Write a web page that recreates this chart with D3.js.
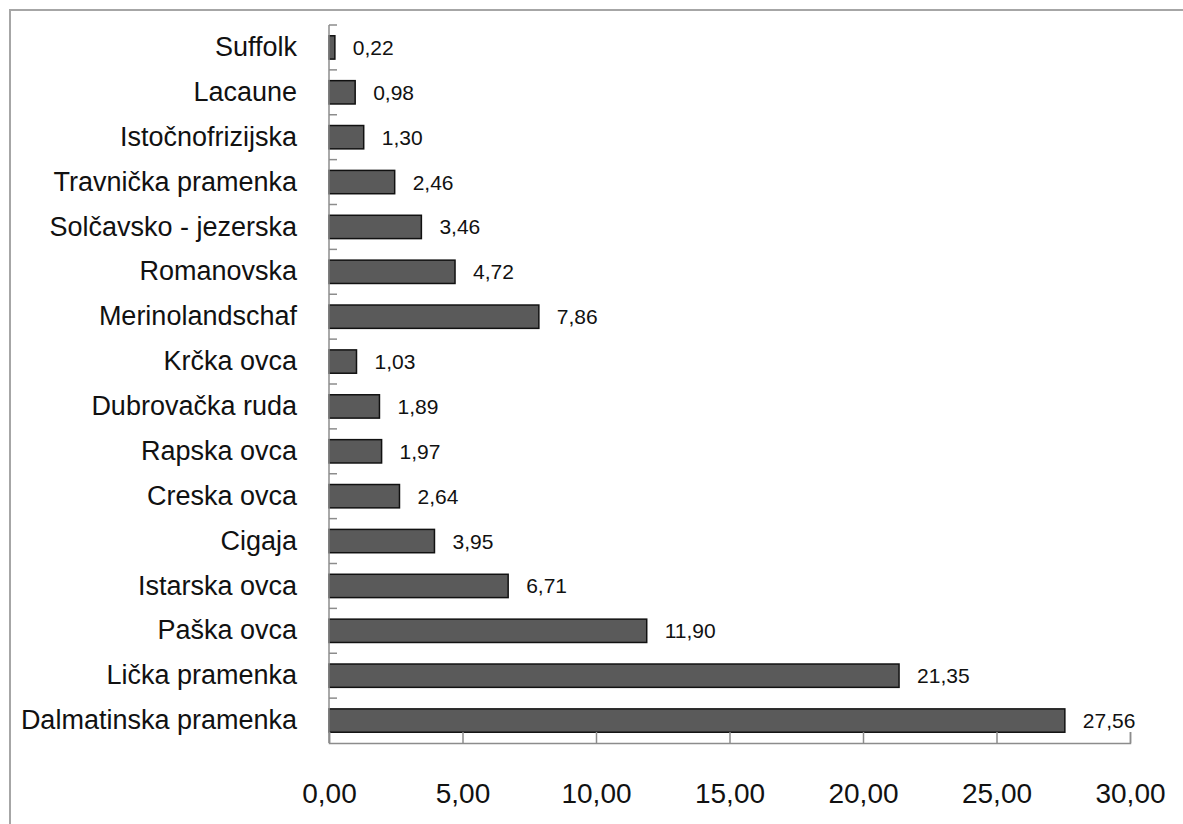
<!DOCTYPE html>
<html>
<head>
<meta charset="utf-8">
<script src="https://cdn.jsdelivr.net/npm/d3@7"></script>
<style>
  html, body { margin: 0; padding: 0; background: #fff; }
  svg { display: block; }
  text { font-family: "Liberation Sans", Arial, sans-serif; fill: #111; }
</style>
</head>
<body>
<svg id="chart" width="1183" height="824"></svg>
<script>
const categories = [
  "Suffolk", "Lacaune", "Istočnofrizijska", "Travnička pramenka",
  "Solčavsko - jezerska", "Romanovska", "Merinolandschaf", "Krčka ovca",
  "Dubrovačka ruda", "Rapska ovca", "Creska ovca", "Cigaja",
  "Istarska ovca", "Paška ovca", "Lička pramenka", "Dalmatinska pramenka"
];
const values = [
  0.22, 0.98, 1.30, 2.46,
  3.46, 4.72, 7.86, 1.03,
  1.89, 1.97, 2.64, 3.95,
  6.71, 11.90, 21.35, 27.56
];
const xTicks = [0, 5, 10, 15, 20, 25, 30];

(function () {
const locale = d3.formatLocale({decimal: ",", thousands: ".", grouping: [3], currency: ["", ""]});
const fmt = locale.format(".2f");

const svg = d3.select("#chart");
const W = 1183, H = 824;
const mLeft = 329, mRight = 1130, mTop = 25, mBottom = 743;

// outer frame
svg.append("rect")
  .attr("x", 10).attr("y", 10)
  .attr("width", W + 20).attr("height", H + 20)
  .attr("fill", "none").attr("stroke", "#a6a6a6").attr("stroke-width", 2);

const x = d3.scaleLinear().domain([0, 30]).range([mLeft, mRight]);
const y = d3.scaleBand().domain(categories).range([mTop, mBottom])
  .paddingInner(0.48).paddingOuter(0.24);

const data = categories.map((c, i) => ({c, v: values[i]}));

// bars
svg.append("g").selectAll("rect").data(data).join("rect")
  .attr("x", x(0))
  .attr("y", d => y(d.c))
  .attr("width", d => x(d.v) - x(0))
  .attr("height", y.bandwidth())
  .attr("fill", "#5a5a5a")
  .attr("stroke", "#111")
  .attr("stroke-width", 1.5);

// value labels
svg.append("g").selectAll("text").data(data).join("text")
  .attr("x", d => x(d.v) + 18)
  .attr("y", d => y(d.c) + y.bandwidth() / 2)
  .attr("dy", "0.36em")
  .attr("font-size", 21)
  .text(d => fmt(d.v));

// x axis
const xAxis = d3.axisBottom(x).tickValues(xTicks)
  .tickFormat(fmt).tickSizeInner(-11).tickSizeOuter(-11).tickPadding(40);
const gx = svg.append("g").attr("transform", `translate(0,${mBottom})`).call(xAxis);
gx.selectAll("path, line").attr("stroke", "#8c8c8c").attr("stroke-width", 1.5);
gx.selectAll("text").attr("font-size", 28).attr("fill", "#111")
  .attr("font-family", "'Liberation Sans', Arial, sans-serif");

// y axis line and boundary ticks
const step = y.step();
const boundaries = categories.map(c => y(c) - step * y.paddingInner() / 2);
const gy = svg.append("g");
gy.append("line")
  .attr("x1", mLeft).attr("x2", mLeft).attr("y1", mTop).attr("y2", mBottom)
  .attr("stroke", "#8c8c8c").attr("stroke-width", 1.5);
gy.selectAll("line.tk").data(boundaries).join("line").attr("class", "tk")
  .attr("x1", mLeft).attr("x2", mLeft + 8)
  .attr("y1", d => d).attr("y2", d => d)
  .attr("stroke", "#8c8c8c").attr("stroke-width", 1.5);

// category labels
const yAxis = d3.axisLeft(y).tickSize(0).tickPadding(32);
const gl = svg.append("g").attr("transform", `translate(${mLeft},0)`).call(yAxis);
gl.select(".domain").remove();
gl.selectAll("text").attr("font-size", 27).attr("fill", "#111")
  .attr("font-family", "'Liberation Sans', Arial, sans-serif");
})();
</script>
</body>
</html>
